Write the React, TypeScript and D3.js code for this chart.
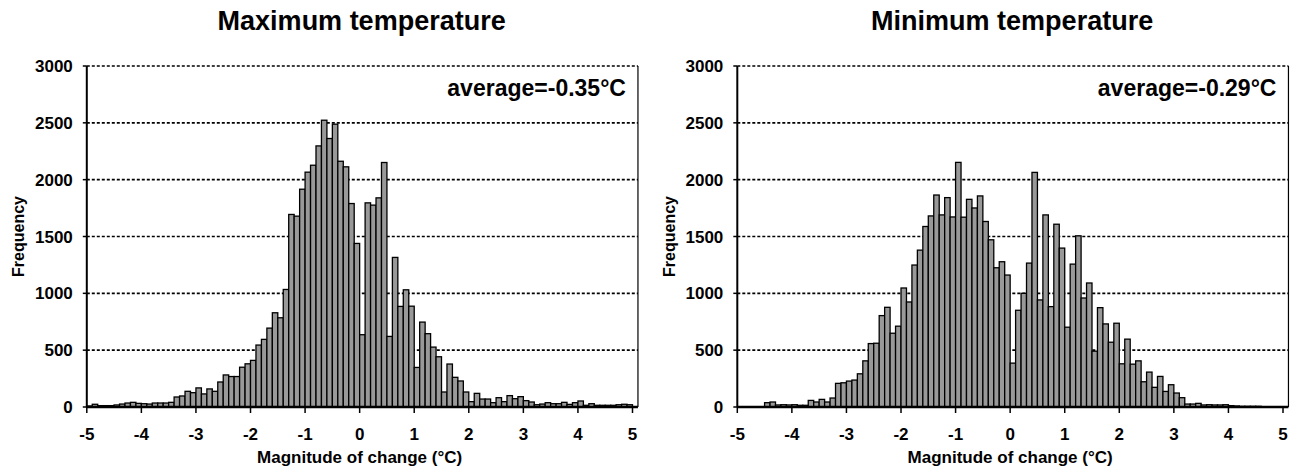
import * as d3 from "d3";

// bin starts, -5.0 .. 4.9, width 0.1
const binStarts = d3.range(100).map((i) => Math.round((-5 + i * 0.1) * 10) / 10);

// frequencies
const maxTempFreq = [
  9, 24, 12, 12, 12, 18, 26, 35, 41, 32,
  29, 26, 35, 35, 35, 41, 88, 97, 138, 126,
  168, 115, 159, 138, 220, 282, 268, 268, 350, 380,
  410, 545, 595, 694, 829, 785, 1034, 1694, 1679, 1916,
  2066, 2127, 2297, 2523, 2362, 2488, 2162, 2113, 1790, 1439,
  636, 1796, 1776, 1840, 2151, 621, 1316, 885, 1031, 887,
  348, 747, 645, 527, 442, 132, 378, 261, 229, 132,
  47, 120, 70, 70, 38, 82, 47, 100, 73, 91,
  56, 44, 20, 26, 38, 29, 29, 41, 23, 38,
  53, 15, 29, 15, 15, 15, 15, 20, 24, 20,
];

const minTempFreq = [
  0, 0, 0, 0, 0, 38, 44, 18, 20, 18,
  20, 15, 15, 58, 44, 67, 44, 79, 208, 213,
  228, 237, 292, 406, 558, 561, 804, 877, 649, 711,
  1047, 924, 1249, 1380, 1588, 1681, 1865, 1690, 1842, 1672,
  2152, 1670, 1827, 1751, 1857, 1632, 1471, 1225, 1278, 1161,
  386, 851, 1000, 1266, 2064, 942, 1690, 883, 1608, 1398,
  702, 1257, 1506, 959, 1091, 491, 874, 731, 570, 737,
  380, 597, 377, 406, 222, 307, 173, 269, 137, 196,
  123, 82, 26, 26, 32, 18, 20, 18, 18, 20,
  12, 9, 6, 6, 6, 6, 3, 3, 3, 3,
];

const xTicks = [-5, -4, -3, -2, -1, 0, 1, 2, 3, 4, 5];
const yTicks = [0, 500, 1000, 1500, 2000, 2500, 3000];

const panels = [
  { title: "Maximum temperature", avg: "average=-0.35°C", values: maxTempFreq },
  { title: "Minimum temperature", avg: "average=-0.29°C", values: minTempFreq },
];

const FONT = "'Liberation Sans', Arial, sans-serif";

const Panel = ({ title, avg, values, offset }) => {
  const left = 86.8 + offset,
    right = 632.5 + offset,
    top = 66,
    bottom = 407;

  const x = d3.scaleLinear().domain([-5, 5]).range([left, right]);
  const y = d3.scaleLinear().domain([0, 3000]).range([bottom, top]);
  const frameRight = x(5.1);
  const cx = (left + right) / 2;

  return (
    <g fontFamily={FONT} fontWeight="bold" fill="#000">
      <text x={cx + 2} y={30} textAnchor="middle" fontSize={27}>{title}</text>

      {/* gridlines behind bars */}
      {yTicks.filter((t) => t > 0).map((t) => (
        <line key={t} x1={left} x2={frameRight} y1={y(t)} y2={y(t)}
          stroke="#000" strokeWidth={1.7} strokeDasharray="3,2" />
      ))}
      <line x1={frameRight} x2={frameRight} y1={top} y2={bottom} stroke="#000" strokeWidth={1.2} />

      {/* bars */}
      {values.map((v, i) => (
        v > 0 ? (
          <rect key={i}
            x={x(binStarts[i])}
            y={y(v)}
            width={x(binStarts[i] + 0.1) - x(binStarts[i])}
            height={bottom - y(v)}
            fill="#999999" stroke="#000" strokeWidth={1.3} />
        ) : null
      ))}

      {/* axes */}
      <line x1={left} x2={left} y1={top} y2={bottom} stroke="#000" strokeWidth={2} />
      <line x1={left} x2={frameRight} y1={bottom} y2={bottom} stroke="#000" strokeWidth={2.4} />
      {yTicks.map((t) => (
        <g key={t}>
          <line x1={left - 4} x2={left} y1={y(t)} y2={y(t)} stroke="#000" strokeWidth={1.5} />
          <text x={left - 14} y={y(t)} dy="0.36em" textAnchor="end" fontSize={17}>{t}</text>
        </g>
      ))}
      {xTicks.map((t) => (
        <g key={t}>
          <line x1={x(t)} x2={x(t)} y1={bottom} y2={bottom + 6} stroke="#000" strokeWidth={1.5} />
          <text x={x(t)} y={440} textAnchor="middle" fontSize={17}>{t}</text>
        </g>
      ))}

      <text x={cx} y={463} textAnchor="middle" fontSize={17}>Magnitude of change (°C)</text>
      <text transform={`translate(${offset + 24},${(top + bottom) / 2}) rotate(-90)`}
        textAnchor="middle" fontSize={16}>Frequency</text>

      <text x={frameRight - 12} y={96} textAnchor="end" fontSize={23}>{avg}</text>
    </g>
  );
};

export default function App() {
  return (
    <svg width={1296} height={472} style={{ position: "absolute", left: 0, top: 0, background: "#fff" }}>
      <rect width={1296} height={472} fill="#fff" />
      {panels.map((p, i) => (
        <Panel key={p.title} {...p} offset={i * 650.5} />
      ))}
    </svg>
  );
}
